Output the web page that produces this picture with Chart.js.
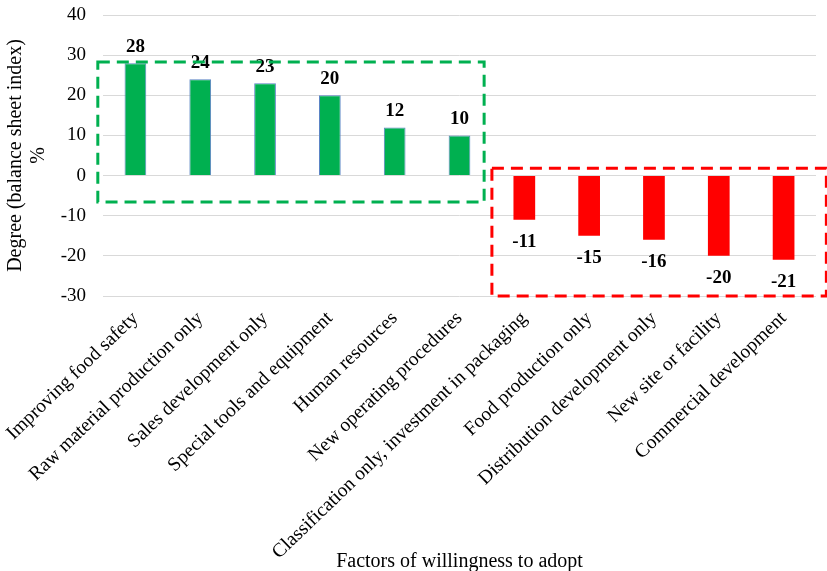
<!DOCTYPE html>
<html>
<head>
<meta charset="utf-8">
<script src="https://cdn.jsdelivr.net/npm/chart.js@4.4.0/dist/chart.umd.min.js"></script>
<style>
  html, body { margin: 0; padding: 0; background: #ffffff; }
  #wrap { width: 827px; height: 571px; }
</style>
</head>
<body>
<div id="wrap"><canvas id="chart" width="827" height="571"></canvas></div>
<script>
// Factors and their balance sheet index (%)
const categories = [
  'Improving food safety',
  'Raw material production only',
  'Sales development only',
  'Special tools and equipment',
  'Human resources',
  'New operating procedures',
  'Classification only, investment in packaging',
  'Food production only',
  'Distribution development only',
  'New site or facility',
  'Commercial development'
];
const values = [28, 24, 23, 20, 12, 10, -11, -15, -16, -20, -21];
const yTicks = [-30, -20, -10, 0, 10, 20, 30, 40];

const SERIF = '"Liberation Serif", "Times New Roman", serif';
const GREEN = '#00b050';
const RED = '#ff0000';

// Dashed frames around the positive and negative groups, in axis units
// (x: category index, y: index value)
const groupFrames = [
  { x0: -0.58, x1: 5.38, yTop: 28.3, yBottom: -6.6, color: GREEN },
  { x0: 5.50, x1: 10.66, yTop: 1.85, yBottom: -30, color: RED }
];

const valueLabels = {
  id: 'valueLabels',
  afterDatasetsDraw(chart) {
    const { ctx } = chart;
    const meta = chart.getDatasetMeta(0);
    ctx.save();
    ctx.font = 'bold 19px ' + SERIF;
    ctx.fillStyle = '#000000';
    ctx.textAlign = 'center';
    ctx.textBaseline = 'middle';
    meta.data.forEach((bar, i) => {
      const v = values[i];
      const y = v >= 0 ? bar.y - 16 : bar.y + 22;
      ctx.fillText(String(v), bar.x, y);
    });
    ctx.restore();
  }
};

const frames = {
  id: 'frames',
  afterDraw(chart) {
    const { ctx, scales } = chart;
    const xs = scales.x, ys = scales.y;
    const step = xs.getPixelForValue(1) - xs.getPixelForValue(0);
    const px = v => xs.getPixelForValue(0) + v * step;
    ctx.save();
    ctx.lineWidth = 3;
    ctx.setLineDash([12, 7]);
    groupFrames.forEach(f => {
      ctx.strokeStyle = f.color;
      const left = px(f.x0), right = px(f.x1);
      const top = ys.getPixelForValue(f.yTop), bottom = ys.getPixelForValue(f.yBottom);
      ctx.strokeRect(left, top, right - left, bottom - top);
    });
    ctx.restore();
  }
};

new Chart(document.getElementById('chart'), {
  type: 'bar',
  data: {
    labels: categories,
    datasets: [{
      data: values,
      backgroundColor: values.map(v => v >= 0 ? GREEN : RED),
      borderColor: values.map(v => v >= 0 ? '#5b84c4' : RED),
      borderWidth: values.map(v => v >= 0 ? 1 : 0),
      barPercentage: 0.335,
      categoryPercentage: 1.0
    }]
  },
  options: {
    responsive: false,
    animation: false,
    layout: { padding: { top: 15, right: 11, left: 0, bottom: 0 } },
    plugins: {
      legend: { display: false },
      tooltip: { enabled: false }
    },
    scales: {
      x: {
        grid: { display: false },
        border: { display: false },
        ticks: {
          autoSkip: false,
          minRotation: 44,
          maxRotation: 44,
          padding: 3,
          color: '#000000',
          font: { family: SERIF, size: 19.5 }
        },
        title: {
          display: true,
          text: 'Factors of willingness to adopt',
          color: '#000000',
          font: { family: SERIF, size: 20 },
          padding: { top: 0, bottom: -3 }
        },
        afterFit(scale) {
          scale.height = 275;
          scale.paddingLeft = 0;
          scale.paddingRight = 0;
        }
      },
      y: {
        min: -30,
        max: 40,
        afterBuildTicks(scale) {
          scale.ticks = yTicks.map(v => ({ value: v }));
        },
        grid: { color: '#d9d9d9', lineWidth: 1, drawTicks: false },
        border: { display: false },
        ticks: {
          padding: 17,
          color: '#000000',
          font: { family: SERIF, size: 19 }
        },
        title: {
          display: true,
          text: ['Degree (balance sheet index)', '%'],
          color: '#000000',
          font: { family: SERIF, size: 20, lineHeight: 1.15 },
          padding: { top: 4, bottom: 0 }
        },
        afterFit(scale) {
          scale.width = 103;
          scale.paddingTop = 0;
          scale.paddingBottom = 0;
        }
      }
    }
  },
  plugins: [valueLabels, frames]
});
</script>
</body>
</html>
